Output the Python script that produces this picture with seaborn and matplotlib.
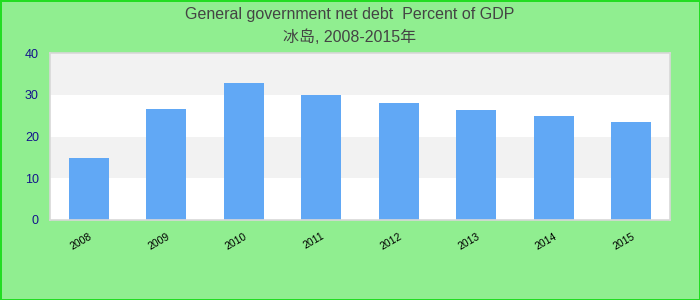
import matplotlib
matplotlib.use("Agg")
import matplotlib.pyplot as plt
import seaborn as sns
import pandas as pd

years = ["2008", "2009", "2010", "2011", "2012", "2013", "2014", "2015"]
net_debt = [14.9, 26.6, 32.8, 29.9, 28.0, 26.3, 24.9, 23.5]
y_ticks = [0, 10, 20, 30, 40]
title_line1 = "General government net debt  Percent of GDP"
title_line2 = "冰岛, 2008-2015年"

sns.set_theme(style="white")
plt.rcParams['font.family'] = ['Liberation Sans', 'Noto Sans CJK SC', 'DejaVu Sans']

df = pd.DataFrame({"year": years, "value": net_debt})

fig = plt.figure(figsize=(7, 3), dpi=100)
fig.patch.set_facecolor("#90ee90")
fig.patch.set_edgecolor("#22dd22")
fig.patch.set_linewidth(2)
ax = fig.add_axes([50/700, 1-220/300, 620/700, 167/300])
ax.set_facecolor("white")

for lo in (10, 30):
    ax.axhspan(lo, lo + 10, color="#f2f2f2", zorder=0, lw=0)

sns.barplot(data=df, x="year", y="value", color="#61a8f5", saturation=1,
            width=0.52, ax=ax, zorder=2, linewidth=0)

ax.set_ylim(0, 40)
ax.set_yticks(y_ticks)
ax.set_xlim(-0.5, len(years) - 0.5)
ax.set_xlabel("")
ax.set_ylabel("")
ax.tick_params(axis="y", length=0, colors="#14148c", labelsize=9, pad=8)
ax.tick_params(axis="x", length=0, labelsize=7.5, colors="black", pad=8)
for lab in ax.get_xticklabels():
    lab.set_rotation(30)
    lab.set_ha("right")
    lab.set_rotation_mode("anchor")
for s in ax.spines.values():
    s.set_color("#d8d8d8")
    s.set_linewidth(1.2)

fig.text(0.5, 1-14/300, title_line1, ha="center", va="center", fontsize=11.5, color="#444444")
fig.text(0.5, 1-37/300, title_line2, ha="center", va="center", fontsize=11.5, color="#444444")

fig.savefig("out.png", dpi=100, facecolor=fig.get_facecolor(), edgecolor=fig.get_edgecolor())
